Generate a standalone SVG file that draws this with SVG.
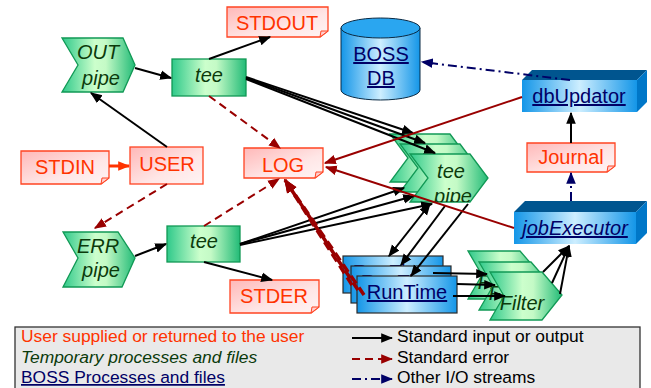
<svg xmlns="http://www.w3.org/2000/svg" xmlns:xlink="http://www.w3.org/1999/xlink" width="651" height="388" viewBox="0 0 651 388">
<defs>
<style>
text{font-family:"Liberation Sans",Arial,Helvetica,sans-serif}
.nt{font-size:20px;text-anchor:middle}
.rt{fill:#ff3300}
.gt{fill:#0b3a0b;font-style:italic}
.bt{fill:#000066;text-decoration:underline}
.file{fill:url(#gRed);stroke:#ff4422;stroke-width:1.3}
.fold{fill:#ffd0d0;stroke:#ff4422;stroke-width:1}
.grn{fill:url(#gGreen);stroke:#119955;stroke-width:1.3}
.blu{fill:url(#gBlue);stroke:#2a2a2a;stroke-width:1.2}
.bface{fill:url(#gBlue)}
.btop{fill:#00558f}
.bside{fill:#0077c8}
.k{fill:none;stroke:#000;stroke-width:2;marker-end:url(#mk)}
.kk{fill:none;stroke:#000;stroke-width:2;marker-end:url(#mk);marker-start:url(#mk)}
.r{fill:none;stroke:#990000;stroke-width:2;marker-end:url(#mr)}
.rd{fill:none;stroke:#990000;stroke-width:2;stroke-dasharray:8,5;marker-end:url(#mr)}
.rh{fill:none;stroke:#990000;stroke-width:3.5;stroke-dasharray:9,5;marker-end:url(#mr2)}
.nv{fill:none;stroke:#000066;stroke-width:2;stroke-dasharray:9,4,2,4;marker-end:url(#mn)}
.lg{font-size:17.4px}
</style>
<linearGradient id="gRed" x1="0" y1="0" x2="1" y2="1">
<stop offset="0" stop-color="#ffb8b8"/><stop offset="0.6" stop-color="#ffe6e6"/><stop offset="1" stop-color="#fff4f4"/>
</linearGradient>
<linearGradient id="gGreen" x1="0" y1="0" x2="1" y2="0">
<stop offset="0" stop-color="#2fc98a"/><stop offset="0.45" stop-color="#ccffcc"/><stop offset="0.6" stop-color="#c4fac6"/><stop offset="1" stop-color="#22bb77"/>
</linearGradient>
<linearGradient id="gBlue" x1="0" y1="0" x2="1" y2="0">
<stop offset="0" stop-color="#1496e8"/><stop offset="0.5" stop-color="#cdeeff"/><stop offset="1" stop-color="#1496e8"/>
</linearGradient>
<marker id="mk" viewBox="0 0 10 10" refX="9" refY="5" markerWidth="12" markerHeight="12" markerUnits="userSpaceOnUse" orient="auto-start-reverse"><path d="M0,1 L10,5 L0,9 z" fill="#000"/></marker>
<marker id="mr" viewBox="0 0 10 10" refX="9" refY="5" markerWidth="12" markerHeight="12" markerUnits="userSpaceOnUse" orient="auto"><path d="M0,1 L10,5 L0,9 z" fill="#990000"/></marker>
<marker id="mr2" viewBox="0 0 10 10" refX="9" refY="5" markerWidth="14" markerHeight="14" markerUnits="userSpaceOnUse" orient="auto"><path d="M0,1 L10,5 L0,9 z" fill="#990000"/></marker>
<marker id="mn" viewBox="0 0 10 10" refX="9" refY="5" markerWidth="12" markerHeight="12" markerUnits="userSpaceOnUse" orient="auto"><path d="M0,1 L10,5 L0,9 z" fill="#000066"/></marker>
<marker id="mo" viewBox="0 0 10 10" refX="9" refY="5" markerWidth="12" markerHeight="12" markerUnits="userSpaceOnUse" orient="auto"><path d="M0,1 L10,5 L0,9 z" fill="#ff3300"/></marker>
<polygon id="tpShape" points="0,0 60,0 78,24 60,48 0,48 18,24"/>
<polygon id="fShape" points="0,0 52,0 72,23 52,48 0,48 14,24"/>
<clipPath id="tpClip" clipPathUnits="userSpaceOnUse"><use xlink:href="#tpShape"/></clipPath>
<clipPath id="fClip" clipPathUnits="userSpaceOnUse"><use xlink:href="#fShape"/></clipPath>
</defs>
<rect width="651" height="388" fill="#fff"/>

<g id="stdout">
<path class="file" d="M227,7 H328 V31 L320,37 H227 Z"/><path class="fold" d="M320,37 L321,31 L328,31 Z"/>
<text class="nt rt" x="277" y="30">STDOUT</text>
</g>
<g id="stdin">
<path class="file" d="M21,151 H109 V178 L101,184 H21 Z"/><path class="fold" d="M101,184 L102,178 L109,178 Z"/>
<text class="nt rt" x="65" y="174">STDIN</text>
</g>
<g id="user">
<rect class="file" x="130" y="147" width="73" height="37"/>
<text class="nt rt" x="167" y="171">USER</text>
</g>
<g id="log">
<path class="file" d="M244,148 H323 V172 L315,178 H244 Z"/><path class="fold" d="M315,178 L316,172 L323,172 Z"/>
<text class="nt rt" x="283" y="172">LOG</text>
</g>
<g id="stder">
<path class="file" d="M230,280 H319 V307 L311,313 H230 Z"/><path class="fold" d="M311,313 L312,307 L319,307 Z"/>
<text class="nt rt" x="274" y="303">STDER</text>
</g>
<g id="journal">
<path class="file" d="M527,143 H615 V166 L607,172 H527 Z"/><path class="fold" d="M607,172 L608,166 L615,166 Z"/>
<text class="nt rt" x="571" y="164">Journal</text>
</g>

<g id="outpipe">
<polygon class="grn" points="62,38 123,38 135,65 123,92 62,92 78,65"/>
<text class="nt gt" x="98" y="59">OUT</text>
<text class="nt gt" x="101" y="85">pipe</text>
</g>
<g id="errpipe">
<polygon class="grn" points="63,232 118,232 135,258 122,287 63,287 78,258"/>
<text class="nt gt" x="98" y="253">ERR</text>
<text class="nt gt" x="101" y="277">pipe</text>
</g>
<g id="tee1">
<rect class="grn" x="172" y="59" width="74" height="37"/>
<text class="nt gt" x="209" y="82">tee</text>
</g>
<g id="tee2">
<rect class="grn" x="167" y="226" width="73" height="36"/>
<text class="nt gt" x="204" y="248">tee</text>
</g>

<g id="teepipe">
<g transform="translate(390,134)"><use xlink:href="#tpShape" class="grn"/><g clip-path="url(#tpClip)"><text class="nt gt" x="41" y="24">tee</text><text class="nt gt" x="43" y="49">pipe</text></g></g>
<g transform="translate(400,144)"><use xlink:href="#tpShape" class="grn"/><g clip-path="url(#tpClip)"><text class="nt gt" x="41" y="24">tee</text><text class="nt gt" x="43" y="49">pipe</text></g></g>
<g transform="translate(410,154)"><use xlink:href="#tpShape" class="grn"/><g clip-path="url(#tpClip)"><text class="nt gt" x="41" y="24">tee</text><text class="nt gt" x="43" y="49">pipe</text></g></g>
</g>

<g id="filter">
<g transform="translate(468,251)"><use xlink:href="#fShape" class="grn"/><g clip-path="url(#fClip)"><text class="nt gt" x="32" y="38">Filter</text></g></g>
<g transform="translate(479,262)"><use xlink:href="#fShape" class="grn"/><g clip-path="url(#fClip)"><text class="nt gt" x="32" y="38">Filter</text></g></g>
<g transform="translate(490,272)"><use xlink:href="#fShape" class="grn"/><g clip-path="url(#fClip)"><text class="nt gt" x="32" y="38">Filter</text></g></g>
</g>

<g id="runtime">
<rect class="blu" x="343" y="256" width="100" height="37"/>
<text class="nt bt" x="393" y="279">RunTime</text>
<rect class="blu" x="351" y="266" width="100" height="37"/>
<text class="nt bt" x="401" y="289">RunTime</text>
<rect class="blu" x="357" y="276" width="100" height="37"/>
<text class="nt bt" x="407" y="299">RunTime</text>
</g>

<g id="bossdb">
<path d="M341,28 V90 A39.5,10 0 0 0 420,90 V28 Z" fill="url(#gBlue)" stroke="#0a2a44" stroke-width="1"/>
<ellipse cx="380.5" cy="28" rx="39.5" ry="10" fill="#2aa6f0" stroke="#0a2a44" stroke-width="1"/>
<text class="nt bt" x="381" y="61">BOSS</text>
<text class="nt bt" x="381" y="85">DB</text>
</g>

<g id="dbupdator">
<polygon class="btop" points="522,80 532,70 647,70 637,80"/>
<polygon class="bside" points="637,80 647,70 647,102 637,112"/>
<rect class="bface" x="522" y="80" width="115" height="32"/>
<text class="nt bt" x="579" y="103">dbUpdator</text>
</g>
<g id="jobexecutor">
<polygon class="btop" points="514,212 525,201 647,201 636,212"/>
<polygon class="bside" points="636,212 647,201 647,233 636,244"/>
<rect class="bface" x="514" y="212" width="122" height="32"/>
<text class="nt bt" x="575" y="235" font-style="italic">jobExecutor</text>
</g>

<g id="connectors">
<path d="M109,166 L129,166" fill="none" stroke="#ff3300" stroke-width="3" marker-end="url(#mo)"/>
<path class="k" d="M167,147 L91,93"/>
<path class="k" d="M135,68 L171,78"/>
<path class="k" d="M209,59 L270,37"/>
<path class="k" d="M246,77 L413,133"/>
<path class="k" d="M246,78 L425,143"/>
<path class="k" d="M246,79 L435,153"/>
<path class="k" d="M135,256 L166,244"/>
<path class="k" d="M204,262 L272,280"/>
<path class="k" d="M240,244 L404,188"/>
<path class="k" d="M240,244 L414,196"/>
<path class="k" d="M240,245 L432,204"/>
<path class="kk" d="M430,204 L389,256"/>
<path class="k" d="M445,206 L401,265"/>
<path class="k" d="M468,204 L411,276"/>
<path class="k" d="M433,273 L487,274"/>
<path class="k" d="M457,284 L495,285"/>
<path class="k" d="M453,296 L505,296"/>
<path class="k" d="M543,272 L569,246"/>
<path class="k" d="M552,283 L569,246"/>
<path class="k" d="M560,294 L569,246"/>
<path class="k" d="M571,143 L571,113"/>
<path class="r" d="M522,97 L325,163"/>
<path class="r" d="M514,228 L326,167"/>
<path class="rd" d="M209,96 L280,148"/>
<path class="rd" d="M167,184 L95,228"/>
<path class="rd" d="M204,226 L279,179"/>
<path class="rh" d="M352,285 L285,180"/>
<path class="rh" d="M358,290 L285,180"/>
<path class="rh" d="M364,295 L285,180"/>
<path class="nv" d="M570,80 L422,62"/>
<path class="nv" d="M571,201 L571,173"/>
</g>

<g id="legend">
<rect x="15" y="327" width="625" height="70" fill="#e9e9e9" stroke="#333" stroke-width="1.3"/>
<text class="lg rt" x="21" y="342">User supplied or returned to the user</text>
<text class="lg gt" x="21" y="363">Temporary processes and files</text>
<text class="lg bt" x="21" y="383">BOSS Processes and files</text>
<path class="k" d="M352,338 L392,338"/>
<path class="rd" d="M352,359 L392,359"/>
<path class="nv" d="M352,379 L392,379"/>
<text class="lg" x="397" y="342" fill="#000">Standard input or output</text>
<text class="lg" x="397" y="363" fill="#000">Standard error</text>
<text class="lg" x="397" y="383" fill="#000">Other I/O streams</text>
</g>
</svg>
